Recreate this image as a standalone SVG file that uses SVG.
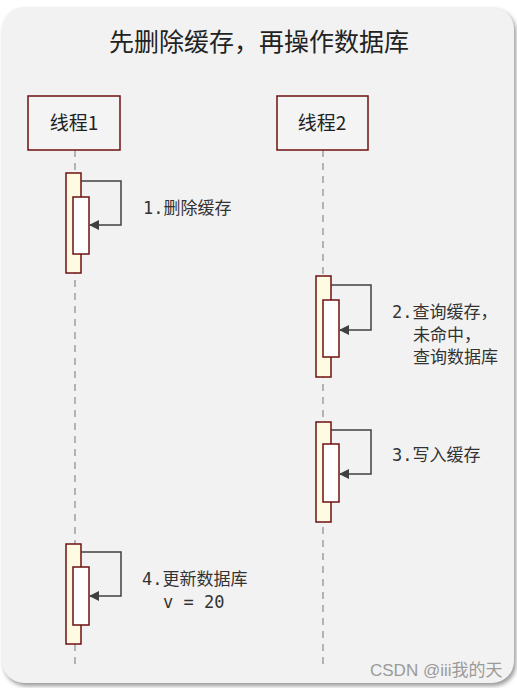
<svg xmlns="http://www.w3.org/2000/svg" width="517" height="688" viewBox="0 0 517 688">
<style>
.bg{fill:#f2f2f2}
.head{fill:#f4f4f4;stroke:#6e1111;stroke-width:1.5}
.life{stroke:#a0a0a0;stroke-width:1.5;stroke-dasharray:7,6;fill:none}
.act{fill:#fffbe3;stroke:#6e1111;stroke-width:1.5}
.act2{fill:#ffffff;stroke:#6e1111;stroke-width:1.5}
.msg{fill:none;stroke:#404040;stroke-width:1.5}
.t{font-family:"Noto Sans CJK SC","Liberation Sans",sans-serif;fill:#222}
.m{font-family:"DejaVu Sans Mono","Noto Sans CJK SC",monospace;font-size:17px;fill:#333}
</style>
<defs>
<marker id="ah" markerWidth="10" markerHeight="10" refX="9" refY="5" orient="auto" markerUnits="userSpaceOnUse">
<path d="M0,0 L10,5 L0,10 z" fill="#404040"/>
</marker>
<filter id="sh" x="-5%" y="-5%" width="110%" height="110%">
<feGaussianBlur stdDeviation="2"/>
</filter>
</defs>
<rect width="517" height="688" fill="#ffffff"/>
<rect x="4" y="10" width="512" height="676" rx="22" fill="#9a9a9a" filter="url(#sh)"/>
<rect class="bg" x="2" y="7" width="512" height="676" rx="22"/>
<text class="t" x="259" y="51" font-size="25" text-anchor="middle">先删除缓存，再操作数据库</text>
<g id="lifelines">
<line class="life" x1="75" y1="150" x2="75" y2="665"/>
<line class="life" x1="323" y1="150" x2="323" y2="665"/>
</g>
<g id="thread1">
<rect class="head" x="28" y="96" width="92" height="54"/>
<text class="t" x="74" y="130" font-size="19" text-anchor="middle">线程1</text>
</g>
<g id="thread2">
<rect class="head" x="277" y="96" width="91" height="54"/>
<text class="t" x="322" y="130" font-size="19" text-anchor="middle">线程2</text>
</g>
<g id="act1">
<rect class="act" x="66" y="173" width="15" height="100"/>
<rect class="act2" x="73" y="197" width="16" height="57"/>
</g>
<g id="act2">
<rect class="act" x="316" y="276" width="15" height="101"/>
<rect class="act2" x="323" y="300" width="16" height="57"/>
</g>
<g id="act3">
<rect class="act" x="316" y="422" width="15" height="100"/>
<rect class="act2" x="323" y="444" width="16" height="58"/>
</g>
<g id="act4">
<rect class="act" x="66" y="544" width="15" height="100"/>
<rect class="act2" x="73" y="567" width="16" height="58"/>
</g>
<g id="connectors">
<polyline class="msg" points="81,181 121,181 121,225 90,225" marker-end="url(#ah)"/>
<polyline class="msg" points="331,285 371,285 371,330 340,330" marker-end="url(#ah)"/>
<polyline class="msg" points="331,430 371,430 371,474 340,474" marker-end="url(#ah)"/>
<polyline class="msg" points="81,552 121,552 121,596 90,596" marker-end="url(#ah)"/>
</g>
<g id="labels">
<text class="m" x="143" y="214">1.删除缓存</text>
<text class="m" x="392" y="318">2.查询缓存，</text>
<text class="m" x="413" y="341">未命中，</text>
<text class="m" x="413" y="363">查询数据库</text>
<text class="m" x="392" y="461">3.写入缓存</text>
<text class="m" x="142" y="585">4.更新数据库</text>
<text class="m" x="163" y="608">v = 20</text>
</g>
<text x="370" y="676" font-family="Liberation Sans,'Noto Sans CJK SC',sans-serif" font-size="17" fill="#9a9a9a">CSDN @iii我的天</text>
</svg>
